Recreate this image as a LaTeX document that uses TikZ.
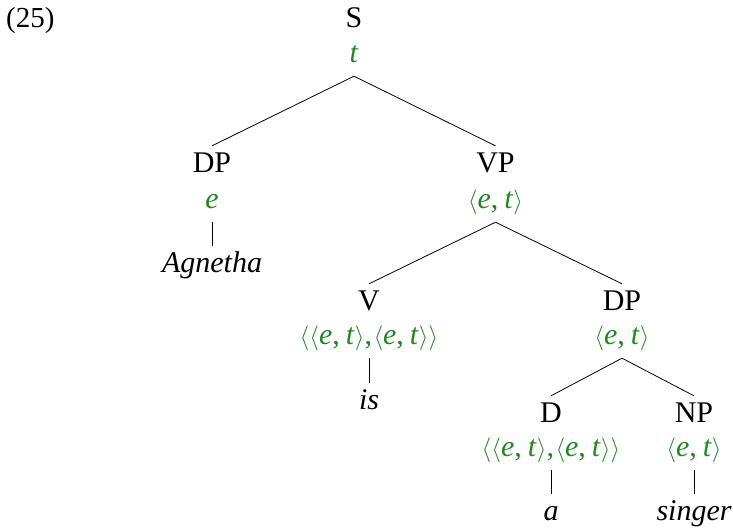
\documentclass[tikz,border=0pt]{standalone}
\usepackage{fontspec}
\setmainfont{Liberation Serif}
\definecolor{typegreen}{RGB}{34,135,34}
\begin{document}
\begin{tikzpicture}[x=1pt,y=-1pt,
  lbl/.style={anchor=base, text height=20pt, text depth=8pt, inner ysep=6pt, inner xsep=0pt, font=\fontsize{30}{36}\selectfont},
  typ/.style={lbl, text=typegreen},
  wrd/.style={lbl, font=\fontsize{30}{36}\selectfont\itshape},
  br/.style={line width=0.8pt, draw=black}]
\useasboundingbox (0,0) rectangle (733,528);
\newcommand{\ty}[2]{$\langle$#1,\kern0.2em#2$\rangle$}
\newcommand{\et}{\ty{\textit{e}}{\textit{t}}}
\newcommand{\ett}{$\langle$\et,\kern0.05em\et$\rangle$}
\node[lbl, anchor=base west, font=\fontsize{29}{34}\selectfont] (num) at (6,27) {(25)};
% root
\node[lbl] (S) at (354,27) {S};
\node[typ] (St) at (354,62) {\textit{t}};
% left DP
\node[lbl] (DPa) at (212,172) {DP};
\node[typ] (DPat) at (212,208) {\textit{e}};
\node[wrd] (Ag) at (212,272) {Agnetha};
% VP
\node[lbl] (VP) at (495.5,172) {VP};
\node[typ] (VPt) at (495.5,208) {\et};
% V
\node[lbl] (V) at (369,310) {V};
\node[typ] (Vt) at (369,344) {\ett};
\node[wrd] (is) at (369,409) {is};
% right DP
\node[lbl] (DPb) at (622,310) {DP};
\node[typ] (DPbt) at (622,344) {\et};
% D
\node[lbl] (D) at (551,422) {D};
\node[typ] (Dt) at (551,456) {\ett};
\node[wrd] (a) at (551,520) {a};
% NP
\node[lbl] (NP) at (694,422) {NP};
\node[typ] (NPt) at (694,456) {\et};
\node[wrd] (sg) at (694,520) {singer};
% branches
\draw[br] (St.south) -- (DPa.north);
\draw[br] (St.south) -- (VP.north);
\draw[br] (DPat.south) -- (Ag.north);
\draw[br] (VPt.south) -- (V.north);
\draw[br] (VPt.south) -- (DPb.north);
\draw[br] (Vt.south) -- (is.north);
\draw[br] (DPbt.south) -- (D.north);
\draw[br] (DPbt.south) -- (NP.north);
\draw[br] (Dt.south) -- (a.north);
\draw[br] (NPt.south) -- (sg.north);
\end{tikzpicture}
\end{document}
